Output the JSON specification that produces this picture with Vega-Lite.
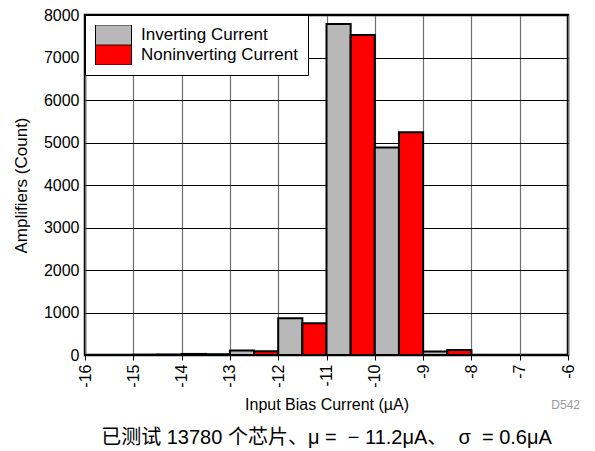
{
  "$schema": "https://vega.github.io/schema/vega-lite/v6.json",
  "width": 483,
  "height": 340,
  "autosize": "none",
  "padding": {"left": 85, "top": 15, "right": 27, "bottom": 96},
  "background": "white",
  "config": {
    "font": "Liberation Sans",
    "view": {"stroke": "black", "strokeWidth": 2.5},
    "axis": {"labelFont": "Liberation Sans", "titleFont": "Liberation Sans", "titleFontWeight": "normal", "labelColor": "black", "titleColor": "black"}
  },
  "title": {
    "text": "已测试 13780 个芯片、μ =\u00a0\u00a0−\u00a011.2μA、\u00a0 σ\u00a0\u00a0= 0.6μA",
    "orient": "bottom",
    "anchor": "middle",
    "offset": 16,
    "fontSize": 20,
    "fontWeight": "normal",
    "font": "Liberation Sans, Noto Sans CJK SC",
    "color": "black"
  },
  "datasets": {
    "bars": [
      {"start": -16, "end": -15.5, "series": "Inverting Current", "count": 0},
      {"start": -15.5, "end": -15, "series": "Noninverting Current", "count": 0},
      {"start": -15, "end": -14.5, "series": "Inverting Current", "count": 8},
      {"start": -14.5, "end": -14, "series": "Noninverting Current", "count": 10},
      {"start": -14, "end": -13.5, "series": "Inverting Current", "count": 25},
      {"start": -13.5, "end": -13, "series": "Noninverting Current", "count": 15},
      {"start": -13, "end": -12.5, "series": "Inverting Current", "count": 105},
      {"start": -12.5, "end": -12, "series": "Noninverting Current", "count": 90},
      {"start": -12, "end": -11.5, "series": "Inverting Current", "count": 865},
      {"start": -11.5, "end": -11, "series": "Noninverting Current", "count": 750},
      {"start": -11, "end": -10.5, "series": "Inverting Current", "count": 7790},
      {"start": -10.5, "end": -10, "series": "Noninverting Current", "count": 7530},
      {"start": -10, "end": -9.5, "series": "Inverting Current", "count": 4880},
      {"start": -9.5, "end": -9, "series": "Noninverting Current", "count": 5240},
      {"start": -9, "end": -8.5, "series": "Inverting Current", "count": 80},
      {"start": -8.5, "end": -8, "series": "Noninverting Current", "count": 120},
      {"start": -8, "end": -7.5, "series": "Inverting Current", "count": 0},
      {"start": -7.5, "end": -7, "series": "Noninverting Current", "count": 0}
    ],
    "note": [{"x": -6, "y": -1170, "label": "D542"}]
  },
  "layer": [
    {
      "data": {"name": "bars"},
      "mark": {"type": "bar", "stroke": "black", "strokeWidth": 2},
      "encoding": {
        "x": {
          "field": "start", "type": "quantitative",
          "scale": {"domain": [-16, -6], "nice": false},
          "axis": {
            "values": [-16, -15, -14, -13, -12, -11, -10, -9, -8, -7, -6],
            "labelExpr": "replace(format(datum.value, 'd'), '−', '-')",
            "labelAngle": -90, "labelAlign": "right", "labelBaseline": "middle",
            "labelFontSize": 16, "labelPadding": 4,
            "tickColor": "black", "tickSize": 5,
            "domain": false,
            "grid": true, "gridColor": "#707070", "gridWidth": 1.2, "gridOpacity": 1,
            "title": "Input Bias Current (µA)", "titleFontSize": 16, "titlePadding": 9
          }
        },
        "x2": {"field": "end"},
        "y": {
          "field": "count", "type": "quantitative",
          "scale": {"domain": [0, 8000], "nice": false},
          "axis": {
            "values": [0, 1000, 2000, 3000, 4000, 5000, 6000, 7000, 8000],
            "format": "d",
            "labelFontSize": 16, "labelPadding": 6, "ticks": false,
            "domain": false,
            "grid": true, "gridColor": "#000000", "gridWidth": 1, "gridOpacity": 1,
            "title": "Amplifiers (Count)", "titleFontSize": 17, "titlePadding": 13
          }
        },
        "y2": {"datum": 0},
        "fill": {
          "field": "series", "type": "nominal",
          "scale": {"domain": ["Inverting Current", "Noninverting Current"], "range": ["#b8b8b8", "#ff0000"]},
          "legend": {
            "title": null,
            "orient": "top-left",
            "offset": 0,
            "fillColor": "white",
            "strokeColor": "black",
            "padding": 10,
            "symbolType": "M-1,-0.56H1V0.56H-1Z",
            "symbolSize": 1296,
            "symbolStrokeColor": "black",
            "symbolStrokeWidth": 1,
            "labelFontSize": 17,
            "labelColor": "black",
            "rowPadding": 0,
            "labelOffset": 9,
            "clipHeight": 20
          }
        }
      }
    },
    {
      "data": {"name": "note"},
      "mark": {"type": "text", "align": "right", "baseline": "middle", "fontSize": 12, "color": "#999999", "clip": false, "dx": 12},
      "encoding": {
        "x": {"field": "x", "type": "quantitative"},
        "y": {"field": "y", "type": "quantitative"},
        "text": {"field": "label"}
      }
    }
  ]
}
